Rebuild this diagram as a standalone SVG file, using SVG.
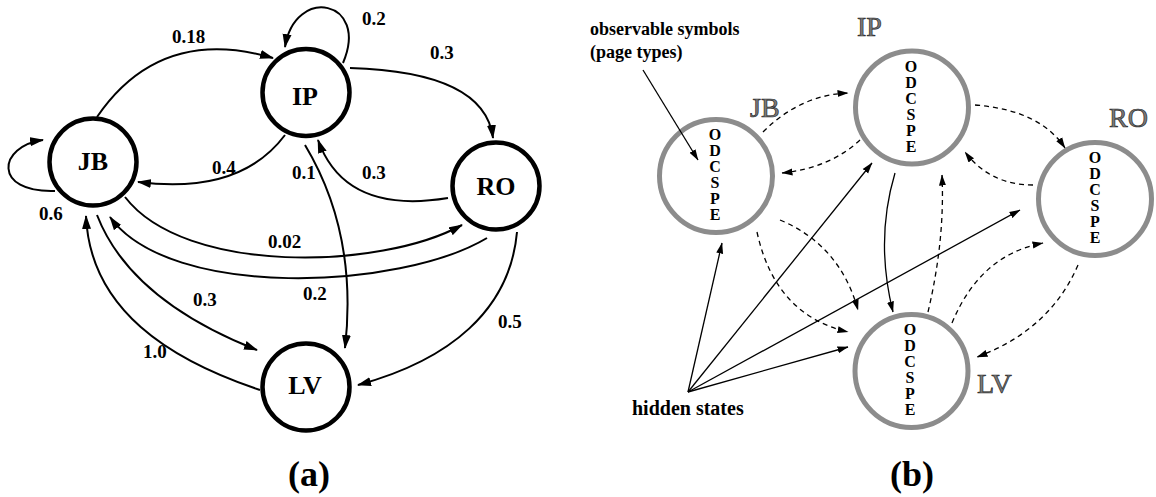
<svg xmlns="http://www.w3.org/2000/svg" width="1156" height="497" viewBox="0 0 1156 497">
<style>
text{font-family:'Liberation Serif','Times New Roman','DejaVu Serif',serif}
.st{fill:none;stroke:#000;stroke-width:4.5}
.gs{fill:none;stroke:#8c8c8c;stroke-width:5}
.nl{font-weight:bold;font-size:26px;text-anchor:middle}
.el{font-weight:bold;font-size:19px}
.sym{font-weight:bold;font-size:16px;text-anchor:middle}
.hl{font-size:28px;fill:#7a7a7a;stroke:#2a2a2a;stroke-width:0.7}
.cap{font-weight:bold;font-size:36px;text-anchor:middle}
.ann{font-weight:bold}
.ea{fill:none;stroke:#000;stroke-width:2;marker-end:url(#ah)}
.eb{fill:none;stroke:#000;stroke-width:1.3;marker-end:url(#ahs)}
.ed{fill:none;stroke:#000;stroke-width:1.3;stroke-dasharray:5 4;marker-end:url(#ahs)}
</style>
<defs>
<marker id="ah" markerUnits="userSpaceOnUse" markerWidth="14" markerHeight="10" viewBox="0 0 14 10" refX="13" refY="5" orient="auto"><path d="M0,0.5 L14,5 L0,9.5 z" fill="#000"/></marker>
<marker id="ahs" markerUnits="userSpaceOnUse" markerWidth="11" markerHeight="8" viewBox="0 0 11 8" refX="10.5" refY="4" orient="auto"><path d="M0,0.5 L11,4 L0,7.5 z" fill="#000"/></marker>
</defs>
<rect width="1156" height="497" fill="#fff"/>

<g id="a-JB"><circle class="st" cx="93" cy="162" r="43.5"/><text class="nl" x="93" y="170">JB</text></g>
<g id="a-IP"><circle class="st" cx="306" cy="92.5" r="43.5"/><text class="nl" x="305" y="105">IP</text></g>
<g id="a-RO"><circle class="st" cx="496" cy="186" r="43.5"/><text class="nl" x="496" y="195">RO</text></g>
<g id="a-LV"><circle class="st" cx="306" cy="387" r="43.5"/><text class="nl" x="305" y="394">LV</text></g>

<g id="b-JB"><circle class="gs" cx="716" cy="176" r="56.5"/>
<text class="sym"><tspan x="715" y="140">O</tspan><tspan x="715" y="156">D</tspan><tspan x="715" y="172">C</tspan><tspan x="715" y="188">S</tspan><tspan x="715" y="204">P</tspan><tspan x="715" y="220">E</tspan></text>
<text class="hl" x="750" y="117">JB</text></g>
<g id="b-IP"><circle class="gs" cx="912" cy="107.5" r="56.5"/>
<text class="sym"><tspan x="911" y="72">O</tspan><tspan x="911" y="88">D</tspan><tspan x="911" y="104">C</tspan><tspan x="911" y="120">S</tspan><tspan x="911" y="136">P</tspan><tspan x="911" y="152">E</tspan></text>
<text class="hl" x="857" y="36">IP</text></g>
<g id="b-RO"><circle class="gs" cx="1095" cy="199" r="56.5"/>
<text class="sym"><tspan x="1095" y="163">O</tspan><tspan x="1095" y="179">D</tspan><tspan x="1095" y="195">C</tspan><tspan x="1095" y="211">S</tspan><tspan x="1095" y="227">P</tspan><tspan x="1095" y="243">E</tspan></text>
<text class="hl" x="1109" y="127">RO</text></g>
<g id="b-LV"><circle class="gs" cx="911.5" cy="371" r="56.5"/>
<text class="sym"><tspan x="910" y="335">O</tspan><tspan x="910" y="351">D</tspan><tspan x="910" y="367">C</tspan><tspan x="910" y="383">S</tspan><tspan x="910" y="399">P</tspan><tspan x="910" y="415">E</tspan></text>
<text class="hl" x="977" y="393">LV</text></g>

<g id="connectors">
<path class="ea" d="M97,117 Q160,25 273,58"/>
<path class="ea" d="M285,135 Q240,195 138,182"/>
<path class="ea" d="M55,191 C-8,193 -2,146 43,140"/>
<path class="ea" d="M343,63 C370,0 295,-15 285,47"/>
<path class="ea" d="M350,68 Q485,72 493,138"/>
<path class="ea" d="M448,198 Q345,215 318,140"/>
<path class="ea" d="M305,145 C335,195 355,260 345,348"/>
<path class="ea" d="M125,197 C185,275 380,270 462,225"/>
<path class="ea" d="M487,238 C400,290 170,300 110,217"/>
<path class="ea" d="M97,215 Q130,300 257,350"/>
<path class="ea" d="M260,390 C170,360 90,310 86,216"/>
<path class="ea" d="M517,232 C510,310 450,360 358,385"/>
<path class="ed" d="M763,132 Q800,95 848,93"/>
<path class="ed" d="M860,140 Q830,168 782,173"/>
<path class="ed" d="M975,105 Q1040,110 1065,148"/>
<path class="ed" d="M1033,185 Q990,185 965,152"/>
<path class="eb" d="M895,173 Q875,240 893,312"/>
<path class="ed" d="M928,312 Q945,240 942,175"/>
<path class="ed" d="M757,232 Q775,315 848,332"/>
<path class="ed" d="M780,220 Q840,245 858,310"/>
<path class="ed" d="M952,323 Q980,255 1043,243"/>
<path class="ed" d="M1078,265 Q1050,330 977,357"/>
<path class="eb" d="M688,392 L722,243"/>
<path class="eb" d="M688,392 L872,163"/>
<path class="eb" d="M688,392 L1020,210"/>
<path class="eb" d="M688,392 L848,347"/>
<path class="eb" d="M643,70 L698,160"/>
</g>

<g id="labels-a">
<text class="el" x="172" y="43">0.18</text>
<text class="el" x="212" y="174">0.4</text>
<text class="el" x="39" y="220">0.6</text>
<text class="el" x="362" y="25">0.2</text>
<text class="el" x="430" y="59">0.3</text>
<text class="el" x="292" y="179">0.1</text>
<text class="el" x="362" y="179">0.3</text>
<text class="el" x="268" y="248">0.02</text>
<text class="el" x="303" y="300">0.2</text>
<text class="el" x="193" y="306">0.3</text>
<text class="el" x="143" y="358">1.0</text>
<text class="el" x="498" y="328">0.5</text>
</g>

<g id="annotations">
<text class="ann" font-size="18" x="590" y="35">observable symbols</text>
<text class="ann" font-size="18" x="590" y="58">(page types)</text>
<text class="ann" font-size="20" x="632" y="415">hidden states</text>
</g>

<g id="captions">
<text class="cap" x="309" y="486">(a)</text>
<text class="cap" x="912" y="486">(b)</text>
</g>
</svg>
